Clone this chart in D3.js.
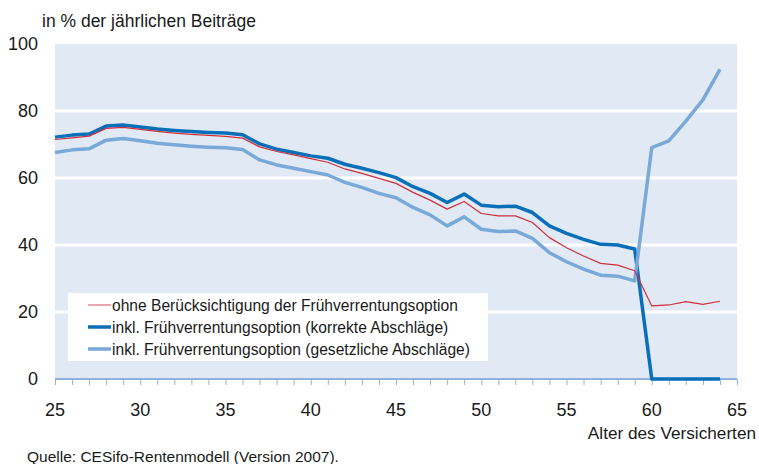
<!DOCTYPE html>
<html>
<head>
<meta charset="utf-8">
<script src="https://cdn.jsdelivr.net/npm/d3@7"></script>
<style>
  body { margin: 0; background: #fff; }
  svg text { font-family: "Liberation Sans", Arial, sans-serif; fill: #1a1a1a; }
</style>
</head>
<body>
<div id="chart"></div>
<script>
// Alter des Versicherten
const ages = d3.range(25, 65);
// ohne Berücksichtigung der Frühverrentungsoption
const ohne = [71.5, 72, 72.5, 74.8, 75.1, 74.5, 73.9, 73.4, 73, 72.7, 72.4, 71.9,
  69.3, 67.9, 66.9, 65.8, 64.7, 62.7, 61.4, 59.9, 58.4, 55.7, 53.4,
  50.7, 53, 49.4, 48.7, 48.7, 46.7, 42.2, 39.2, 36.7, 34.5, 34, 32.3,
  21.8, 22.1, 23.1, 22.3, 23.2];
// inkl. Frühverrentungsoption (korrekte Abschläge)
const korrekt = [72.2, 72.8, 73.1, 75.5, 75.8, 75.2, 74.6, 74.2, 73.9, 73.6, 73.4, 72.9,
  70.2, 68.6, 67.6, 66.6, 65.9, 64.1, 62.9, 61.6, 60.1, 57.4, 55.4,
  52.7, 55.2, 51.9, 51.4, 51.6, 49.7, 45.7, 43.5, 41.7, 40.2, 40, 38.8,
  0, 0, 0, 0, 0];
// inkl. Frühverrentungsoption (gesetzliche Abschläge)
const gesetzlich = [67.6, 68.4, 68.7, 71.3, 71.8, 71.1, 70.4, 69.9, 69.5, 69.2, 69, 68.5,
  65.4, 63.9, 62.9, 61.9, 60.9, 58.7, 57.2, 55.4, 54.1, 51.2, 49,
  45.7, 48.4, 44.7, 44, 44.2, 42, 37.7, 35, 32.8, 31, 30.7, 29.3,
  69.1, 71.1, 77, 83.3, 92.4];

const xTicks = [25, 30, 35, 40, 45, 50, 55, 60, 65];
const yTicks = [0, 20, 40, 60, 80, 100];

const seriesNames = [
  "ohne Berücksichtigung der Frühverrentungsoption",
  "inkl. Frühverrentungsoption (korrekte Abschläge)",
  "inkl. Frühverrentungsoption (gesetzliche Abschläge)"
];

const width = 759, height = 464;
const svg = d3.select("#chart").append("svg")
  .attr("width", width)
  .attr("height", height);

const x = d3.scaleLinear().domain([25, 65]).range([55, 737]);
const y = d3.scaleLinear().domain([0, 100]).range([379, 44]);

// plot background
svg.append("rect")
  .attr("x", x(25)).attr("y", y(100))
  .attr("width", x(65) - x(25)).attr("height", y(0) - y(100))
  .attr("fill", "#e1e9f4");

// white gridlines
svg.selectAll(".grid")
  .data(yTicks.filter(d => d > 0 && d < 100))
  .enter().append("line")
  .attr("class", "grid")
  .attr("x1", x(25)).attr("x2", x(65))
  .attr("y1", d => y(d)).attr("y2", d => y(d))
  .attr("stroke", "#fff")
  .attr("stroke-width", 3);

// y labels
svg.selectAll(".ylab")
  .data(yTicks)
  .enter().append("text")
  .attr("class", "ylab")
  .attr("x", 38)
  .attr("y", d => y(d) + 6)
  .attr("text-anchor", "end")
  .style("font-size", "18px")
  .text(d => d);

// x axis
const xAxis = d3.axisBottom(x)
  .tickValues(d3.range(25, 66))
  .tickSize(6)
  .tickFormat("");
const gx = svg.append("g")
  .attr("transform", `translate(0,${y(0)})`)
  .call(xAxis);
gx.select(".domain").attr("stroke", "#8fb3dc").attr("stroke-width", 2).attr("d", `M${x(25)},0H${x(65)}`);
gx.selectAll(".tick line").attr("stroke", "#8fb3dc").attr("stroke-width", 1);

svg.selectAll(".xlab")
  .data(xTicks)
  .enter().append("text")
  .attr("class", "xlab")
  .attr("x", d => x(d))
  .attr("y", 416)
  .attr("text-anchor", "middle")
  .style("font-size", "18px")
  .text(d => d);

// lines
const line = d3.line()
  .x((d, i) => x(ages[i]))
  .y(d => y(d));

svg.append("path")
  .datum(korrekt)
  .attr("d", line)
  .attr("fill", "none")
  .attr("stroke", "#0a6fb9")
  .attr("stroke-width", 3.5)
  .attr("stroke-linejoin", "round");

svg.append("path")
  .datum(gesetzlich)
  .attr("d", line)
  .attr("fill", "none")
  .attr("stroke", "#78a9d8")
  .attr("stroke-width", 3.5)
  .attr("stroke-linejoin", "round");

svg.append("path")
  .datum(ohne)
  .attr("d", line)
  .attr("fill", "none")
  .attr("stroke", "#d0303c")
  .attr("stroke-width", 1.2)
  .attr("stroke-linejoin", "round");

// legend
const legend = svg.append("g").attr("transform", "translate(68,293)");
legend.append("rect")
  .attr("width", 420).attr("height", 68)
  .attr("fill", "#fff");
const legendColors = ["#e08a90", "#0a6fb9", "#78a9d8"];
const legendWidths = [1.5, 3.5, 3.5];
seriesNames.forEach(function (name, i) {
  legend.append("line")
    .attr("x1", 20).attr("x2", 43)
    .attr("y1", 12 + i * 22).attr("y2", 12 + i * 22)
    .attr("stroke", legendColors[i])
    .attr("stroke-width", legendWidths[i]);
  legend.append("text")
    .attr("x", 44)
    .attr("y", 17.5 + i * 22)
    .style("font-size", "15.6px")
    .text(name);
});

// titles
svg.append("text")
  .attr("x", 42).attr("y", 27)
  .style("font-size", "17.5px")
  .text("in % der jährlichen Beiträge");

svg.append("text")
  .attr("x", 756).attr("y", 439)
  .attr("text-anchor", "end")
  .style("font-size", "17.2px")
  .text("Alter des Versicherten");

svg.append("text")
  .attr("x", 27).attr("y", 462)
  .style("font-size", "15.5px")
  .text("Quelle: CESifo-Rentenmodell (Version 2007).");
</script>
</body>
</html>
